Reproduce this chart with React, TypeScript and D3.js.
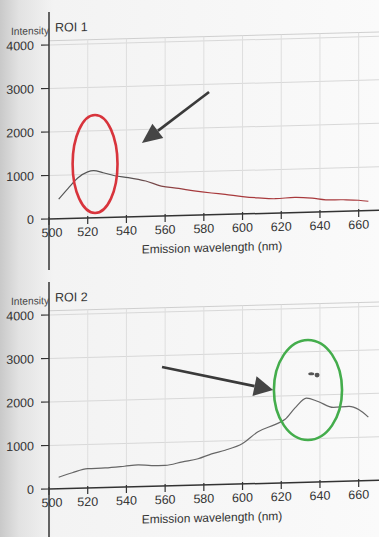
import * as d3 from "d3";

const X_TICKS = [500, 520, 540, 560, 580, 600, 620, 640, 660];
const Y_TICKS = [0, 1000, 2000, 3000, 4000];

// ROI 1 trace (nm, intensity)
const ROI1_WL = [505, 510, 515, 520, 523, 528, 534, 541, 550, 558, 567, 575, 584, 591, 600, 608, 617, 627, 636, 643, 652, 660, 665];
const ROI1_VAL = [450, 700, 930, 1060, 1085, 1030, 955, 905, 815, 690, 625, 560, 500, 460, 400, 360, 330, 350, 320, 275, 265, 245, 215];

// ROI 2 trace
const ROI2_WL = [505, 512, 520, 529, 539, 546, 553, 560, 569, 577, 584, 591, 600, 608, 617, 622, 627, 633, 639, 647, 655, 660, 665];
const ROI2_VAL = [265, 360, 445, 450, 478, 503, 475, 472, 545, 605, 710, 786, 930, 1190, 1350, 1460, 1710, 1935, 1850, 1705, 1720, 1640, 1460];

const W = 379;
const H = 537;
const LEFT = 49;
const ZERO_Y = 219;
const PANEL_GAP = 270;

const x = d3.scaleLinear().domain([500, 670.5]).range([LEFT, W]);
const y = d3.scaleLinear().domain([0, 4100]).range([ZERO_Y, ZERO_Y - 4100 * 0.0435]);

const FONT = "'Liberation Sans', Arial, sans-serif";

type Ann = {
  color: string;
  ellipse: { cx: number; cy: number; rx: number; ry: number };
  arrow: { from: [number, number]; to: [number, number]; head: number; half: number };
};

const ANN1: Ann = {
  color: "#d8343c",
  ellipse: { cx: 523.8, cy: 1264, rx: 11.6, ry: 1126 },
  arrow: { from: [582.7, 2920], to: [548, 1747], head: 20, half: 9 },
};
const ANN2: Ann = {
  color: "#44ad4c",
  ellipse: { cx: 633.8, cy: 2276, rx: 17.6, ry: 1150 },
  arrow: { from: [558.4, 2805], to: [615.8, 2276], head: 19, half: 10 },
};

function Arrow({ a }: { a: Ann["arrow"] }) {
  const x1 = x(a.from[0]);
  const y1 = y(a.from[1]);
  const x2 = x(a.to[0]);
  const y2 = y(a.to[1]);
  const ang = Math.atan2(y2 - y1, x2 - x1);
  const bx = x2 - a.head * Math.cos(ang);
  const by = y2 - a.head * Math.sin(ang);
  const px = -Math.sin(ang) * a.half;
  const py = Math.cos(ang) * a.half;
  return (
    <g>
      <line x1={x1} y1={y1} x2={bx} y2={by} stroke="#3a3a3a" strokeWidth={2.6} />
      <polygon points={`${x2},${y2} ${bx + px},${by + py} ${bx - px},${by - py}`} fill="#454545" />
    </g>
  );
}

function Panel({ offset, title, wl, vals, stroke, ann, id }: {
  offset: number; title: string; wl: number[]; vals: number[]; stroke: string; ann: Ann; id: string;
}) {
  const pts = wl.map((w, i) => [w, vals[i]] as [number, number]);
  const line = d3.line<[number, number]>().x((d) => x(d[0])).y((d) => y(d[1])).curve(d3.curveMonotoneX);
  const top = y(4100);
  // the scan is slightly sheared, horizontals rise to the right
  const skew = `translate(${LEFT},${ZERO_Y}) skewY(-1.5) translate(${-LEFT},${-ZERO_Y})`;
  const e = ann.ellipse;
  return (
    <g transform={`translate(0,${offset})`}>
      <g transform={skew}>
        {Y_TICKS.filter((t) => t > 0).map((t) => (
          <line key={t} x1={LEFT} x2={W} y1={y(t)} y2={y(t)} stroke="#d8d8d8" strokeWidth={1} />
        ))}
        <line x1={LEFT} x2={W} y1={top} y2={top} stroke="#cfcfcf" strokeWidth={1} />
        {X_TICKS.filter((t) => t > 500).map((t) => (
          <line key={t} x1={x(t)} x2={x(t)} y1={top} y2={ZERO_Y} stroke="#dedede" strokeWidth={1} />
        ))}
        <path d={line(pts) ?? ""} fill="none" stroke={stroke} strokeWidth={1.2} />
        <line x1={LEFT} x2={W} y1={ZERO_Y} y2={ZERO_Y} stroke="#333" strokeWidth={1.5} />
        <line x1={LEFT} x2={LEFT} y1={12} y2={270} stroke="#333" strokeWidth={1.5} />
        {Y_TICKS.map((t) => (
          <g key={t}>
            <line x1={LEFT - 8} x2={LEFT} y1={y(t)} y2={y(t)} stroke="#333" strokeWidth={1.2} />
            <text x={LEFT - 15} y={y(t) + 4.5} textAnchor="end" fontSize={12.5} fill="#333" fontFamily={FONT}>
              {t}
            </text>
          </g>
        ))}
        {X_TICKS.map((t) => (
          <g key={t}>
            <line x1={x(t)} x2={x(t)} y1={ZERO_Y - 2} y2={ZERO_Y + 6} stroke="#333" strokeWidth={1.2} />
            <text x={x(t) + (t === 500 ? 3 : 0)} y={ZERO_Y + 18} textAnchor="middle" fontSize={12.5} fill="#333" fontFamily={FONT}>
              {t}
            </text>
          </g>
        ))}
        <text x={212} y={ZERO_Y + 37} textAnchor="middle" fontSize={12} fill="#333" fontFamily={FONT}>
          Emission wavelength (nm)
        </text>
        <text x={11} y={34} fontSize={10.5} fill="#444" fontFamily={FONT} textLength={38} lengthAdjust="spacingAndGlyphs">
          Intensity
        </text>
        <text x={55} y={32} fontSize={12.5} fill="#333" fontFamily={FONT}>{title}</text>
      </g>
      {/* hand-drawn marks on the printout */}
      <ellipse
        cx={x(e.cx)} cy={y(e.cy)} rx={x(e.cx + e.rx) - x(e.cx)} ry={y(0) - y(e.ry)}
        fill="none" stroke={ann.color} strokeWidth={2.6}
      />
      <Arrow a={ann.arrow} />
      {id === "roi2" && (
        <g fill="#555">
          <ellipse cx={x(635.5)} cy={y(2650)} rx={3} ry={1.6} />
          <ellipse cx={x(638.5)} cy={y(2620)} rx={2.5} ry={2.4} />
        </g>
      )}
    </g>
  );
}

export default function App() {
  return (
    <svg width={W} height={H} style={{ position: "absolute", left: 0, top: 0 }}>
      <defs>
        <linearGradient id="paper" x1="0" x2="1" y1="0" y2="0">
          <stop offset="0" stopColor="#c9c9c9" />
          <stop offset="0.05" stopColor="#e2e2e2" />
          <stop offset="0.14" stopColor="#f3f3f3" />
          <stop offset="1" stopColor="#fafafa" />
        </linearGradient>
        <linearGradient id="roi1stroke" gradientUnits="userSpaceOnUse" x1={x(540)} x2={x(575)} y1="0" y2="0">
          <stop offset="0" stopColor="#555" />
          <stop offset="1" stopColor="#a8393c" />
        </linearGradient>
      </defs>
      <rect width={W} height={H} fill="url(#paper)" />
      <Panel offset={0} title="ROI 1" wl={ROI1_WL} vals={ROI1_VAL} stroke="url(#roi1stroke)" ann={ANN1} id="roi1" />
      <Panel offset={PANEL_GAP} title="ROI 2" wl={ROI2_WL} vals={ROI2_VAL} stroke="#666" ann={ANN2} id="roi2" />
    </svg>
  );
}
